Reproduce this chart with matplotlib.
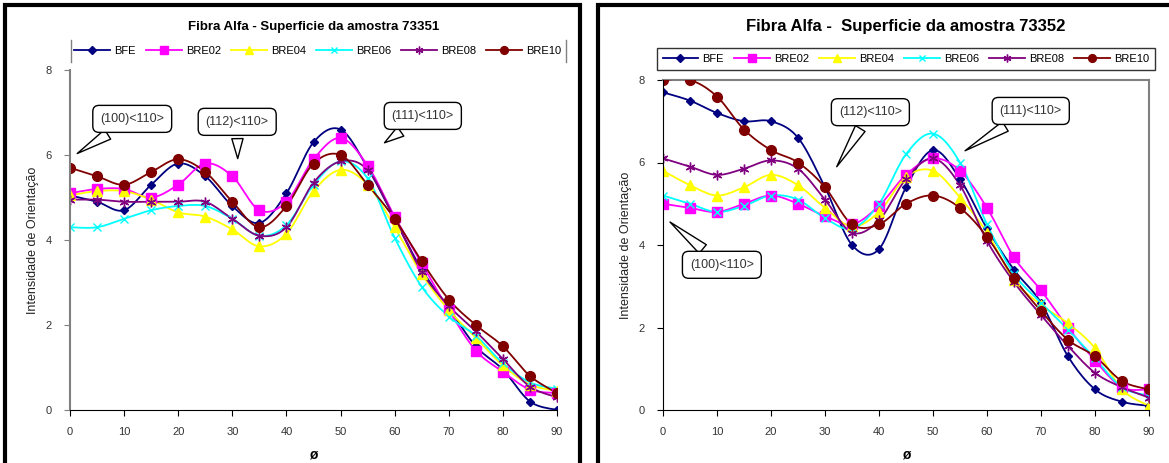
import matplotlib.pyplot as plt
import numpy as np
from matplotlib.patches import Rectangle
from matplotlib.lines import Line2D

plt.rcParams['font.family'] = ['Liberation Sans', 'DejaVu Sans']

# Data (angle phi, orientation intensity)
phi = [0, 5, 10, 15, 20, 25, 30, 35, 40, 45, 50, 55, 60, 65, 70, 75, 80, 85, 90]
labels = ['BFE', 'BRE02', 'BRE04', 'BRE06', 'BRE08', 'BRE10']

# amostra 73351
a1_bfe = [5.05, 4.9, 4.7, 5.3, 5.8, 5.5, 4.8, 4.4, 5.1, 6.3, 6.6, 5.7, 4.5, 3.3, 2.4, 1.5, 0.95, 0.2, 0.0]
a1_bre02 = [5.1, 5.2, 5.2, 5.0, 5.3, 5.8, 5.5, 4.7, 4.9, 5.9, 6.4, 5.75, 4.55, 3.45, 2.35, 1.4, 0.9, 0.48, 0.4]
a1_bre04 = [5.05, 5.15, 5.15, 4.95, 4.65, 4.55, 4.25, 3.85, 4.15, 5.15, 5.65, 5.3, 4.3, 3.2, 2.35, 1.7, 1.05, 0.6, 0.45]
a1_bre06 = [4.3, 4.3, 4.5, 4.7, 4.8, 4.8, 4.5, 4.1, 4.35, 5.3, 5.85, 5.45, 4.05, 2.9, 2.2, 1.75, 1.1, 0.65, 0.5]
a1_bre08 = [4.95, 4.95, 4.9, 4.9, 4.9, 4.9, 4.5, 4.1, 4.3, 5.35, 5.85, 5.65, 4.5, 3.25, 2.45, 1.85, 1.2, 0.55, 0.3]
a1_bre10 = [5.7, 5.5, 5.3, 5.6, 5.9, 5.6, 4.9, 4.3, 4.8, 5.8, 6.0, 5.3, 4.5, 3.5, 2.6, 2.0, 1.5, 0.8, 0.4]

# amostra 73352
a2_bfe = [7.7, 7.5, 7.2, 7.0, 7.0, 6.6, 5.4, 4.0, 3.9, 5.4, 6.3, 5.6, 4.4, 3.4, 2.6, 1.3, 0.5, 0.2, 0.1]
a2_bre02 = [5.0, 4.9, 4.8, 5.0, 5.2, 5.0, 4.7, 4.5, 4.95, 5.7, 6.1, 5.8, 4.9, 3.7, 2.9, 2.0, 1.2, 0.55, 0.5]
a2_bre04 = [5.8, 5.45, 5.2, 5.4, 5.7, 5.45, 4.9, 4.45, 4.8, 5.65, 5.8, 5.15, 4.3, 3.15, 2.55, 2.1, 1.5, 0.5, 0.1]
a2_bre06 = [5.2, 5.0, 4.8, 4.95, 5.2, 5.1, 4.65, 4.4, 5.0, 6.2, 6.7, 6.0, 4.5, 3.3, 2.6, 1.95, 1.25, 0.55, 0.35]
a2_bre08 = [6.1, 5.9, 5.7, 5.85, 6.05, 5.85, 5.1, 4.3, 4.6, 5.6, 6.1, 5.45, 4.1, 3.1, 2.3, 1.55, 0.9, 0.55, 0.3]
a2_bre10 = [8.0, 8.0, 7.6, 6.8, 6.3, 6.0, 5.4, 4.5, 4.5, 5.0, 5.2, 4.9, 4.2, 3.2, 2.4, 1.7, 1.3, 0.7, 0.5]

colors = ['#000080', '#FF00FF', '#FFFF00', '#00FFFF', '#800080', '#800000']
markers = ['D', 's', '^', 'x', (6, 2, 0), 'o']
msizes = [4.5, 6.5, 7, 6, 7, 7]

W, H = 1169, 463


def smooth(x, y, n=12):
    # Excel-like smoothed line (cubic bezier through the points)
    x = np.asarray(x, float)
    y = np.asarray(y, float)
    xs, ys = [x[0]], [y[0]]
    for i in range(len(x) - 1):
        p0 = np.array([x[max(i - 1, 0)], y[max(i - 1, 0)]])
        p1 = np.array([x[i], y[i]])
        p2 = np.array([x[i + 1], y[i + 1]])
        p3 = np.array([x[min(i + 2, len(x) - 1)], y[min(i + 2, len(x) - 1)]])
        c1 = p1 + (p2 - p0) / 6
        c2 = p2 - (p3 - p1) / 6
        t = np.linspace(0, 1, n)[1:, None]
        pts = ((1 - t) ** 3) * p1 + 3 * ((1 - t) ** 2) * t * c1 + 3 * (1 - t) * t ** 2 * c2 + t ** 3 * p2
        xs.extend(pts[:, 0])
        ys.extend(pts[:, 1])
    return xs, ys


def draw_series(ax, series):
    for vals, lab, c, m, ms in zip(series, labels, colors, markers, msizes):
        sx, sy = smooth(phi, vals)
        ax.plot(sx, sy, color=c, lw=1.3, zorder=3)
        ax.plot(phi, vals, linestyle='none', marker=m, color=c, ms=ms,
                mec=c, mew=1.0, zorder=4)


def style_axes(ax, ylabel):
    ax.set_xlim(0, 90)
    ax.set_ylim(0, 8)
    ax.set_xticks(range(0, 91, 10))
    ax.set_yticks(range(0, 9, 2))
    ax.tick_params(direction='out', length=4, labelsize=8, labelcolor='#333333',
                   color='black')
    ax.tick_params(axis='y', pad=9)
    ax.tick_params(axis='x', pad=8)
    ax.set_xlabel('ø', fontsize=10, fontweight='bold', labelpad=8)
    ax.set_ylabel(ylabel, fontsize=9, color='#222222', labelpad=5)


def callout(ax, text, box_xy, tip_xy):
    ax.annotate(text, xy=tip_xy, xytext=box_xy, fontsize=9, color='#333333',
                ha='center', va='center', zorder=6,
                bbox=dict(boxstyle='round,pad=0.6,rounding_size=0.5', fc='white', ec='black', lw=1.0),
                arrowprops=dict(arrowstyle='wedge,tail_width=0.9,shrink_factor=0.5',
                                fc='white', ec='black', lw=1.0))


fig = plt.figure(figsize=(W / 100, H / 100), dpi=100)

# outer panel borders
fig.add_artist(Rectangle((5 / W, -0.05), 575 / W, 1.05 - 5 / H, transform=fig.transFigure,
                         fill=False, ec='black', lw=3))
fig.add_artist(Rectangle((598 / W, -0.05), 600 / W, 1.05 - 5 / H, transform=fig.transFigure,
                         fill=False, ec='black', lw=3))

# ---- left chart ----
ax1 = fig.add_axes([70 / W, 1 - 410 / H, 487 / W, 340 / H])
draw_series(ax1, [a1_bfe, a1_bre02, a1_bre04, a1_bre06, a1_bre08, a1_bre10])
style_axes(ax1, 'Intensidade de Orientação')
ax1.spines['top'].set_visible(False)
ax1.spines['right'].set_visible(False)
ax1.spines['left'].set_color('#808080')
ax1.spines['left'].set_linewidth(1.5)
ax1.tick_params(axis='y', color='#808080')
ax1.set_title('Fibra Alfa - Superficie da amostra 73351', fontsize=9.5, fontweight='bold', pad=29)
callout(ax1, '(100)<110>', (11.5, 6.85), (0.9, 6.0))
callout(ax1, '(112)<110>', (30.9, 6.78), (31.0, 5.85))
callout(ax1, '(111)<110>', (65.2, 6.92), (57.7, 6.25))

handles = [Line2D([], [], color=c, marker=m, ms=ms * 0.8, mec=c, lw=1.3)
           for c, m, ms in zip(colors, markers, msizes)]
fig.legend(handles, labels, loc='center', bbox_to_anchor=(318 / W, 1 - 51 / H), ncol=6,
           fontsize=8, frameon=False, handlelength=3.2, columnspacing=0.9, handletextpad=0.4)
fig.add_artist(Line2D([71 / W, 71 / W], [1 - 62 / H, 1 - 40 / H], color='#808080', lw=1))
fig.add_artist(Line2D([566 / W, 566 / W], [1 - 62 / H, 1 - 40 / H], color='#808080', lw=1))

# ---- right chart ----
ax2 = fig.add_axes([663 / W, 1 - 410 / H, 486 / W, 330 / H])
draw_series(ax2, [a2_bfe, a2_bre02, a2_bre04, a2_bre06, a2_bre08, a2_bre10])
style_axes(ax2, 'Intensidade de Orientação')
for s in ['top', 'right']:
    ax2.spines[s].set_color('#808080')
    ax2.spines[s].set_linewidth(1.5)
for a in [ax1, ax2]:
    for pos in ['left', 'bottom']:
        a.spines[pos].set_zorder(5)
ax2.set_title('Fibra Alfa -  Superficie da amostra 73352', fontsize=12, fontweight='bold', pad=35)
callout(ax2, '(112)<110>', (38.4, 7.22), (31.9, 5.84))
callout(ax2, '(111)<110>', (68.1, 7.25), (55.5, 6.25))
callout(ax2, '(100)<110>', (10.9, 3.52), (0.9, 4.6))

leg2 = fig.legend(handles, labels, loc='center', bbox_to_anchor=(906 / W, 1 - 59 / H), ncol=6,
                  fontsize=8, frameon=True, fancybox=False, edgecolor='black',
                  handlelength=3.2, columnspacing=0.9, handletextpad=0.4, borderpad=0.5)
leg2.get_frame().set_linewidth(1.0)

plt.savefig('out.png', dpi=100)
